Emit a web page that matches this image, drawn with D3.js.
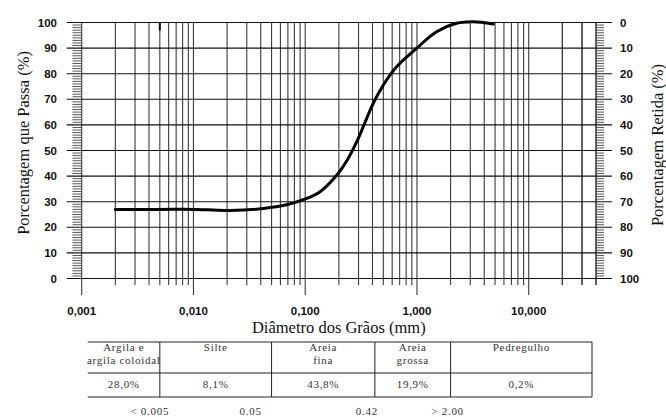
<!DOCTYPE html>
<html><head><meta charset="utf-8">
<script src="https://cdn.jsdelivr.net/npm/d3@7"></script>
<style>
html,body{margin:0;padding:0;background:#fff;}
svg{display:block;}
</style></head>
<body>
<svg id="c" width="666" height="417"></svg>
<script>
// ---- data ----
const diameters = [0.002, 0.005, 0.01, 0.015, 0.0212, 0.0421, 0.0682, 0.096, 0.135, 0.191, 0.243, 0.298, 0.33, 0.406, 0.499, 0.657, 0.992, 1.497, 2.26, 3.18, 4.81];
const passing   = [27.0, 27.0, 27.0, 26.8, 26.6, 27.3, 28.8, 30.8, 33.8, 40.3, 47.0, 54.6, 59.2, 68.4, 75.5, 82.7, 89.9, 96.4, 99.7, 100.3, 99.4];
const xDecades = [0.001, 0.01, 0.1, 1, 10];
const xTickLabels = ["0,001", "0,010", "0,100", "1,000", "10,000"];
const yTicks = [0, 10, 20, 30, 40, 50, 60, 70, 80, 90, 100];
const markerD = [0.005];
const fractionNames = [["Argila e", "argila coloidal"], ["Silte"], ["Areia", "fina"], ["Areia", "grossa"], ["Pedregulho"]];
const fractionValues = ["28,0%", "8,1%", "43,8%", "19,9%", "0,2%"];
const fractionBounds = [0.001, 0.005, 0.05, 0.42, 2.0, 40];
const boundLabels = ["< 0.005", "0.05", "0.42", "> 2.00"];
const boundLabelD = [0.005, 0.05, 0.42, 2.0];

// ---- scales ----
const svg = d3.select("#c");
const x = d3.scaleLog().domain([0.001, 40]).range([81.7, 596]);
const y = d3.scaleLinear().domain([0, 100]).range([278.5, 22.5]);
const yR = d3.scaleLinear().domain([100, 0]).range([278.5, 22.5]);

// vertical grid values
const vgrid = [];
xDecades.forEach(d => { for (let m = 1; m <= 9; m++) { const v = d * m; if (v <= 40.0001) vgrid.push(v); } });
[20, 30, 40].forEach(v => vgrid.push(v));

const g = svg.append("g");
g.selectAll("line.v").data(vgrid).join("line")
  .attr("x1", d => x(d)).attr("x2", d => x(d))
  .attr("y1", y(100))
  .attr("y2", d => xDecades.some(k => Math.abs(k - d) / k < 1e-6) ? 295 : 285)
  .attr("stroke", "#3a3a3a").attr("stroke-width", 1.1);
g.selectAll("line.h").data(yTicks).join("line")
  .attr("x1", 66.7).attr("x2", 612)
  .attr("y1", d => y(d)).attr("y2", d => y(d))
  .attr("stroke", "#111").attr("stroke-width", 1.1);
const minor = d3.range(0, 101).filter(v => v % 10 !== 0);
g.selectAll("line.ml").data(minor).join("line")
  .attr("x1", 72.5).attr("x2", x(0.001))
  .attr("y1", d => y(d)).attr("y2", d => y(d))
  .attr("stroke", "#444").attr("stroke-width", 0.9);
g.selectAll("line.mr").data(minor).join("line")
  .attr("x1", x(40)).attr("x2", 604)
  .attr("y1", d => y(d)).attr("y2", d => y(d))
  .attr("stroke", "#444").attr("stroke-width", 0.9);

g.selectAll("line.mk").data(markerD).join("line")
  .attr("x1", d => x(d)).attr("x2", d => x(d))
  .attr("y1", y(100)).attr("y2", y(100) + 8)
  .attr("stroke", "#111").attr("stroke-width", 2);

const tickFont = "'Liberation Sans', Arial, sans-serif";
svg.append("g").selectAll("text").data(yTicks).join("text")
  .attr("x", 57).attr("y", d => y(d)).attr("dy", "0.35em")
  .attr("text-anchor", "end").attr("font-family", tickFont).attr("font-weight", "bold").attr("font-size", 11.5)
  .attr("fill", "#111").text(d => d);
svg.append("g").selectAll("text").data(yTicks).join("text")
  .attr("x", 620).attr("y", d => yR(d)).attr("dy", "0.35em")
  .attr("text-anchor", "start").attr("font-family", tickFont).attr("font-weight", "bold").attr("font-size", 11.5)
  .attr("fill", "#111").text(d => d);
svg.append("g").selectAll("text").data(xDecades).join("text")
  .attr("x", d => x(d)).attr("y", 315)
  .attr("text-anchor", "middle").attr("font-family", tickFont).attr("font-weight", "bold").attr("font-size", 11.5)
  .attr("fill", "#111").text((d, i) => xTickLabels[i]);

const serif = "'Liberation Serif', 'Times New Roman', serif";
svg.append("text").attr("x", 338.8).attr("y", 333).attr("text-anchor", "middle")
  .attr("font-family", serif).attr("font-size", 16.5).attr("fill", "#111").text("Diâmetro dos Grãos (mm)");
svg.append("text").attr("transform", "translate(29,143) rotate(-90)").attr("text-anchor", "middle")
  .attr("font-family", serif).attr("font-size", 16.5).attr("fill", "#111").text("Porcentagem que Passa (%)");
svg.append("text").attr("transform", "translate(663,145) rotate(-90)").attr("text-anchor", "middle")
  .attr("font-family", serif).attr("font-size", 16.5).attr("fill", "#111").text("Porcentagem Retida (%)");

const pts = diameters.map((d, i) => [x(d), y(passing[i])]);
svg.append("path").datum(pts)
  .attr("d", d3.line().curve(d3.curveCatmullRom.alpha(0.5)))
  .attr("fill", "none").attr("stroke", "#000").attr("stroke-width", 3)
  .attr("stroke-linecap", "round").attr("stroke-linejoin", "round");

const tTop = 342, tMid = 373, tBot = 397;
const tg = svg.append("g");
const tx0 = x(fractionBounds[0]) + 6, tx1 = x(fractionBounds[fractionBounds.length - 1]) - 4;
const colX = fractionBounds.map((b, i) => i === 0 ? tx0 : (i === fractionBounds.length - 1 ? tx1 : x(b)));
[tTop, tMid, tBot].forEach(yy => tg.append("line").attr("x1", tx0).attr("x2", tx1).attr("y1", yy).attr("y2", yy)
  .attr("stroke", "#222").attr("stroke-width", 1));
colX.forEach((cx, i) => { if (i === 0) return; tg.append("line").attr("x1", cx).attr("x2", cx).attr("y1", tTop).attr("y2", tBot)
  .attr("stroke", "#222").attr("stroke-width", 1); });
const tStyle = s => s.attr("font-family", serif).attr("font-size", 11).attr("fill", "#333").attr("letter-spacing", 0.7).attr("text-anchor", "middle");
fractionNames.forEach((lines, i) => {
  const cx = (colX[i] + colX[i + 1]) / 2;
  lines.forEach((t, j) => tg.append("text").call(tStyle).attr("x", cx).attr("y", 351 + j * 13).text(t));
  tg.append("text").call(tStyle).attr("x", cx).attr("y", 388).text(fractionValues[i]);
});
const bdx = [-10, -21, -8, -3];
boundLabelD.forEach((d, i) => tg.append("text").call(tStyle).attr("x", x(d) + bdx[i]).attr("y", 414.5).text(boundLabels[i]));
</script>
</body></html>
